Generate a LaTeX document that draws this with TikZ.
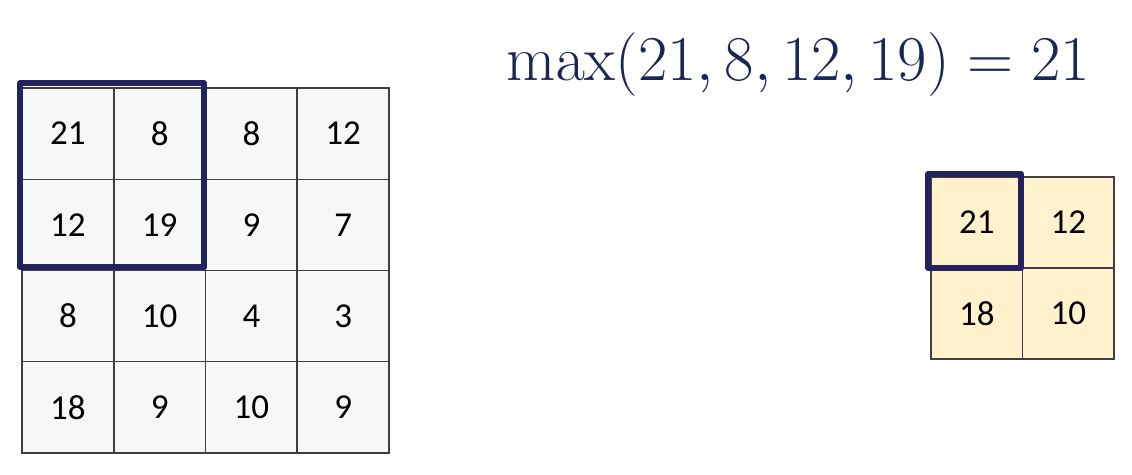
\documentclass[tikz,border=0pt]{standalone}
\usepackage[no-math]{fontspec}
\setmainfont{Carlito}
\usepackage{amsmath}

\definecolor{gridline}{HTML}{3F3F3F}
\definecolor{inputfill}{HTML}{F7F7F7}
\definecolor{poolfill}{HTML}{FFF2CC}
\definecolor{poolnavy}{HTML}{24225E}
\definecolor{eqnavy}{HTML}{1C2558}

\tikzset{
  cell/.style={draw=gridline, line width=0.7pt, inner sep=0pt,
    minimum width=45.8pt, minimum height=45.6pt,
    font=\fontsize{17.5}{20}\selectfont},
  incell/.style={cell, fill=inputfill},
  outcell/.style={cell, fill=poolfill},
  poolbox/.style={draw=poolnavy, line width=3pt, line join=round}
}

\begin{document}
\begin{tikzpicture}[x=0.5pt, y=-0.5pt]
    \useasboundingbox[fill=white] (0,0) rectangle (1132,475);
    % input feature map
    \foreach \v [count=\i from 0] in {21,8,8,12,12,19,9,7,8,10,4,3,18,9,10,9}{
        \pgfmathtruncatemacro{\row}{int(\i/4)}
        \pgfmathtruncatemacro{\col}{mod(\i,4)}
        \node[incell] (in-\row-\col) at ({22+91.75*(\col+0.5)},{88+91.25*(\row+0.5)}) {\v};
    }
    % pooled output
    \foreach \v [count=\i from 0] in {21,12,18,10}{
        \pgfmathtruncatemacro{\row}{int(\i/2)}
        \pgfmathtruncatemacro{\col}{mod(\i,2)}
        \node[outcell] (out-\row-\col) at ({931+91.5*(\col+0.5)},{177+91*(\row+0.5)}) {\v};
    }
    % current window
    \draw[poolbox] ([shift={(-1,-4)}]in-0-0.north west) rectangle ([shift={(-2,-4)}]in-1-1.south east);
    \draw[poolbox] ([shift={(-2,-2)}]out-0-0.north west) rectangle ([shift={(-2,-1)}]out-0-0.south east);
    \node[anchor=base, text=eqnavy, font=\fontsize{24.88}{30}\selectfont] (eq) at (798,81)
        {\scalebox{1.283}{$\max(21,8,12,19)=21$}};
\end{tikzpicture}
\end{document}
